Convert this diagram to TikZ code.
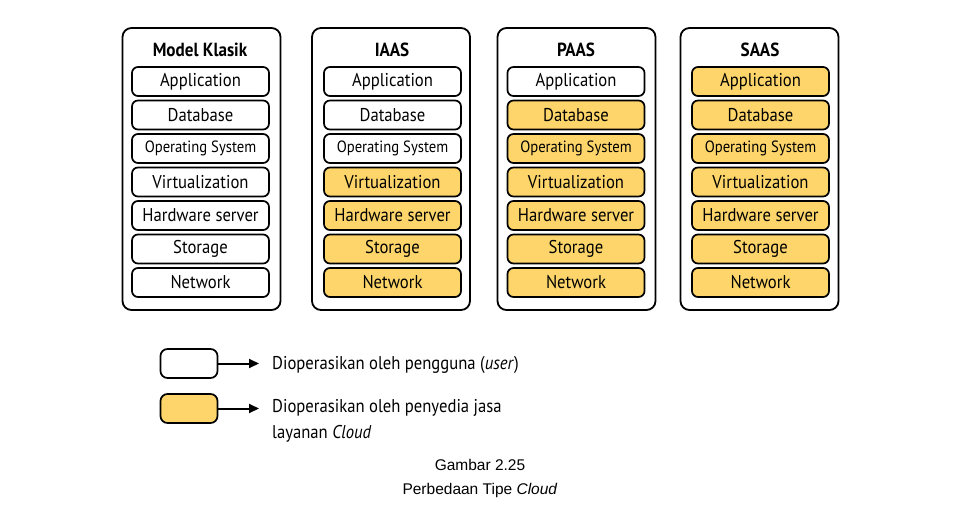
\documentclass[tikz,border=0pt]{standalone}
\usepackage{fontspec}
\setmainfont{PT Sans}[FakeStretch=0.9]
\newfontfamily\capfont{Liberation Sans}
\usetikzlibrary{arrows.meta}
\definecolor{prov}{RGB}{253,213,106}
\tikzset{
  outerbox/.style={draw=black, line width=1.8pt, rounded corners=9pt, minimum width=158pt, minimum height=282pt, inner sep=0pt},
  layer/.style={draw=black, line width=1.7pt, rounded corners=6pt, minimum width=137pt, minimum height=29pt, inner sep=0pt, font=\fontsize{18.5}{20}\selectfont},
  small/.style={font=\fontsize{16.3}{18}\selectfont},
  user/.style={layer, fill=white},
  cloud/.style={layer, fill=prov},
  title/.style={font=\fontsize{19}{21}\selectfont\bfseries},
  legtext/.style={anchor=west, align=left, font=\fontsize{18.5}{26}\selectfont, inner sep=0pt},
  legarrow/.style={draw=black, line width=2pt, -{Triangle[length=10pt,width=9pt]}},
  caption/.style={font=\capfont\fontsize{15.5}{18}\selectfont}
}
\begin{document}
\begin{tikzpicture}[x=1pt,y=-1pt]
\useasboundingbox (0,0) rectangle (980,516);
% outer boxes
\node[outerbox] (mk) at (201.5,169) {};
\node[outerbox] (ia) at (391,169) {};
\node[outerbox] (pa) at (576.5,169) {};
\node[outerbox] (sa) at (759.5,169) {};
% titles
\node[title] (mkt) at (200,50) {Model Klasik};
\node[title] (iat) at (392,50) {IAAS};
\node[title] (pat) at (576,50) {PAAS};
\node[title] (sat) at (760,50) {SAAS};
% Model Klasik
\node[user] (mk1) at (200.5,81.5) {Application};
\node[user] (mk2) at (200.5,115) {Database};
\node[user,small] (mk3) at (200.5,148.5) {Operating System};
\node[user] (mk4) at (200.5,182) {Virtualization};
\node[user] (mk5) at (200.5,215.5) {Hardware server};
\node[user] (mk6) at (200.5,249) {Storage};
\node[user] (mk7) at (200.5,282.5) {Network};
% IAAS
\node[user] (ia1) at (392.5,81.5) {Application};
\node[user] (ia2) at (392.5,115) {Database};
\node[user,small] (ia3) at (392.5,148.5) {Operating System};
\node[cloud] (ia4) at (392.5,182) {Virtualization};
\node[cloud] (ia5) at (392.5,215.5) {Hardware server};
\node[cloud] (ia6) at (392.5,249) {Storage};
\node[cloud] (ia7) at (392.5,282.5) {Network};
% PAAS
\node[user] (pa1) at (576,81.5) {Application};
\node[cloud] (pa2) at (576,115) {Database};
\node[cloud,small] (pa3) at (576,148.5) {Operating System};
\node[cloud] (pa4) at (576,182) {Virtualization};
\node[cloud] (pa5) at (576,215.5) {Hardware server};
\node[cloud] (pa6) at (576,249) {Storage};
\node[cloud] (pa7) at (576,282.5) {Network};
% SAAS
\node[cloud] (sa1) at (760.5,81.5) {Application};
\node[cloud] (sa2) at (760.5,115) {Database};
\node[cloud,small] (sa3) at (760.5,148.5) {Operating System};
\node[cloud] (sa4) at (760.5,182) {Virtualization};
\node[cloud] (sa5) at (760.5,215.5) {Hardware server};
\node[cloud] (sa6) at (760.5,249) {Storage};
\node[cloud] (sa7) at (760.5,282.5) {Network};
% legend
\node[user, minimum width=57pt, rounded corners=7pt] (lu) at (189,363.5) {};
\node[cloud, minimum width=57pt, rounded corners=7pt] (lc) at (189,408.5) {};
\node[legtext] (tu) at (272,364.5) {Dioperasikan oleh pengguna (\textit{user})};
\node[legtext, anchor=north west] (tc) at (272,399) {Dioperasikan oleh penyedia jasa\\layanan \textit{Cloud}};
\coordinate (au) at (259,363.5);
\coordinate (ac) at (259,408.5);
\draw[legarrow] (lu.east) -- (au);
\draw[legarrow] (lc.east) -- (ac);
% caption
\node[caption] (c1) at (480,465) {Gambar 2.25};
\node[caption] (c2) at (480,490) {Perbedaan Tipe \textit{Cloud}};
\end{tikzpicture}
\end{document}
